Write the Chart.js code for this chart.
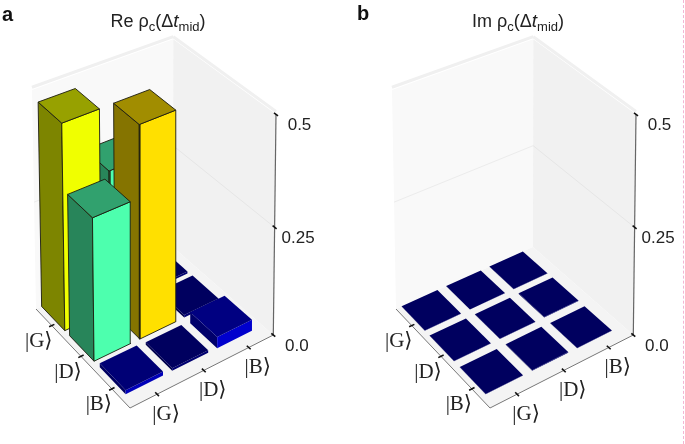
<!DOCTYPE html>
<html>
<head>
<meta charset="utf-8">
<script src="https://cdn.jsdelivr.net/npm/chart.js@4"></script>
<style>
  html, body { margin: 0; padding: 0; background: #fff; }
  #page { position: relative; width: 685px; height: 444px; overflow: hidden; font-family: "Liberation Sans", sans-serif; color: #222; }
  canvas { position: absolute; top: 0; }
  .tag { position: absolute; font-weight: bold; font-size: 20px; line-height: 20px; color: #111; }
  .title { position: absolute; top: 11px; width: 200px; text-align: center; font-size: 18px; line-height: 20px; white-space: nowrap; }
  .title sub { font-size: 13px; line-height: 0; vertical-align: -4px; }
  .title i { font-size: 19px; }
  #cropline { position: absolute; left: 683px; top: 0; height: 444px; border-left: 1px dashed #f4b6d2; }
</style>
</head>
<body>
<div id="page">
  <canvas id="panel-a" width="342" height="444" style="left:0"></canvas>
  <canvas id="panel-b" width="323" height="444" style="left:360px"></canvas>
  <div class="tag" style="left:2px;top:4px">a</div>
  <div class="tag" style="left:357px;top:3px">b</div>
  <div class="title" style="left:58px">Re ρ<sub>c</sub>(Δ<i>t</i><sub>mid</sub>)</div>
  <div class="title" style="left:418px">Im ρ<sub>c</sub>(Δ<i>t</i><sub>mid</sub>)</div>
  <div id="cropline"></div>
</div>
<script>
// Data
const kets = ["|G⟩", "|D⟩", "|B⟩"];
const zTicks = [0.0, 0.25, 0.5];
const zTickLabels = ["0.0", "0.25", "0.5"];

const reG = [0.469, 0.323, 0.005];
const reD = [0.323, 0.483, 0.006];
const reB = [0.009, 0.006, 0.026];

const imG = [0.0005, 0.0005, 0.0005];
const imD = [0.0005, 0.0005, 0.0015];
const imB = [0.0005, 0.0015, 0.0005];

// Projection of the box on the picture, corners L, K(back), R, F(front)
const floorQuad = [[36, 309], [173, 247], [273.3, 335], [130, 408]];
const roofQuad = [[32, 90], [173.3, 39.3], [276, 114.3], [128.7, 176]];
const zMax = 0.5;

const homography = (q) => {
    const [[x0, y0], [x1, y1], [x2, y2], [x3, y3]] = q;
    const dx1 = x1 - x2, dx2 = x3 - x2, sx = x0 - x1 + x2 - x3;
    const dy1 = y1 - y2, dy2 = y3 - y2, sy = y0 - y1 + y2 - y3;
    const det = dx1 * dy2 - dx2 * dy1;
    const g = (sx * dy2 - dx2 * sy) / det;
    const h = (dx1 * sy - sx * dy1) / det;
    const a = x1 - x0 + g * x1, b = x3 - x0 + h * x3;
    const d = y1 - y0 + g * y1, e = y3 - y0 + h * y3;
    return (u, v) => {
        const w = g * u + h * v + 1;
        return [(a * u + b * v + x0) / w, (d * u + e * v + y0) / w];
    };
};
const floorMap = homography(floorQuad);
const roofMap = homography(roofQuad);

// u runs |G> to |B> along the front right edge, v runs |G> to |B> along the left edge
const project = (u, v, z) => {
    const p = floorMap(u, v), q = roofMap(u, v);
    const s = z / zMax, t = s / (1 + 0.05 * (1 - s)); // heights shrink a little going up
    return { x: p[0] + (q[0] - p[0]) * t, y: p[1] + (q[1] - p[1]) * t };
};

const tickCentre = [0.18, 0.5, 0.82];
const barCentreU = [0.165, 0.48, 0.796];
const barCentreV = [0.131, 0.446, 0.768];
const barHalfU = 0.126;
const barHalfV = 0.131;

const barColour = (z) => {
    if (z < 0.008) return [0, 0, 150];
    if (z < 0.02) return [0, 0, 185];
    if (z < 0.1) return [0, 0, 205];
    if (z < 0.4) return [77, 255, 174];
    if (z < 0.475) return [240, 255, 0];
    return [255, 224, 0];
};
const shade = (c, f) => `rgb(${c.map((k) => Math.round(k * f)).join(",")})`;

const polygon = (pts, fill, stroke, width) => ({
    data: pts.concat([pts[0]]),
    showLine: true,
    fill: "shape",
    backgroundColor: fill,
    borderColor: stroke || fill,
    borderWidth: width === undefined ? 0 : width,
    pointRadius: 0,
    tension: 0,
});
const segment = (a, b, colour, width) => ({
    data: [a, b],
    showLine: true,
    fill: false,
    borderColor: colour,
    borderWidth: width,
    pointRadius: 0,
    tension: 0,
});

const boxDatasets = () => {
    const sets = [];
    // panes
    sets.push(polygon([project(0, 0, 0), project(1, 0, 0), project(1, 0, zMax), project(0, 0, zMax)], "#f9f9f9"));
    sets.push(polygon([project(1, 0, 0), project(1, 1, 0), project(1, 1, zMax), project(1, 0, zMax)], "#f1f1f1"));
    sets.push(polygon([project(0, 0, 0), project(1, 0, 0), project(1, 1, 0), project(0, 1, 0)], "#f4f4f4"));
    // grid lines on the panes
    const rim = zMax * 1.012;
    sets.push(segment(project(0, 0, rim), project(1, 0, rim), "#f0f0f0", 3));
    sets.push(segment(project(1, 0, rim), project(1, 1, rim), "#f0f0f0", 3));
    sets.push(segment(project(0, 0, 0.25), project(1, 0, 0.25), "#ececec", 1));
    sets.push(segment(project(1, 0, 0.25), project(1, 1, 0.25), "#e6e6e6", 1));
    // axes
    sets.push(segment(project(0, 0, 0), project(0, 1, 0), "#777", 1));
    sets.push(segment(project(0, 1, 0), project(1, 1, 0), "#777", 1));
    sets.push(segment(project(1, 1, 0), project(1, 1, zMax), "#666", 1.2));
    const t = 0.018;
    tickCentre.forEach((c) => {
        sets.push(segment(project(-t, c, 0), project(t, c, 0), "#111", 1.6));
        sets.push(segment(project(c, 1 - t, 0), project(c, 1 + t, 0), "#111", 1.6));
    });
    zTicks.forEach((z) => {
        sets.push(segment(project(1, 1 - t, z), project(1, 1 + t, z), "#111", 1.6));
    });
    return sets;
};

const barDatasets = (rows) => {
    const sets = [];
    rows.forEach((row, r) => {
        for (let c = row.length - 1; c >= 0; c--) {
            const z = row[c];
            const u0 = barCentreU[c] - barHalfU, u1 = barCentreU[c] + barHalfU;
            const v0 = barCentreV[r] - barHalfV, v1 = barCentreV[r] + barHalfV;
            const col = barColour(z);
            const edge = z > 0.1 ? "#1c1c10" : undefined;
            const lw = z > 0.1 ? 0.9 : 0;
            // left face, right face, top
            sets.push(polygon([project(u0, v0, 0), project(u0, v1, 0), project(u0, v1, z), project(u0, v0, z)], shade(col, 0.52), edge, lw));
            sets.push(polygon([project(u0, v1, 0), project(u1, v1, 0), project(u1, v1, z), project(u0, v1, z)], shade(col, z < 0.008 ? 0.75 : 1), edge, lw));
            sets.push(polygon([project(u0, v0, z), project(u1, v0, z), project(u1, v1, z), project(u0, v1, z)], shade(col, 0.63), edge, lw));
        }
    });
    return sets;
};

const axisText = {
    id: "axisText",
    afterDatasetsDraw(chart) {
        const { ctx, scales } = chart;
        const px = (p) => [scales.x.getPixelForValue(p.x), scales.y.getPixelForValue(p.y)];
        ctx.save();
        ctx.textAlign = "center";
        ctx.textBaseline = "middle";
        ctx.fillStyle = "#222";
        ctx.font = '21px "Liberation Serif", "DejaVu Serif", serif';
        kets.forEach((k, i) => {
            const l = px(project(0, tickCentre[i], 0));
            ctx.fillText(k, l[0] - 13, l[1] + 16);
            const b = px(project(tickCentre[i], 1, 0));
            ctx.fillText(k, b[0] + 9, b[1] + 20);
        });
        ctx.font = '17px "Liberation Sans", sans-serif';
        zTicks.forEach((z, i) => {
            const p = px(project(1, 1, z));
            ctx.fillText(zTickLabels[i], p[0] + 23.5, p[1] + 11);
        });
        ctx.restore();
    },
};

const drawPanel = (id, rows) => {
    const canvas = document.getElementById(id);
    const datasets = boxDatasets().concat(barDatasets(rows));
    // later datasets paint over earlier ones
    datasets.forEach((d, i) => { d.order = -i; });
    return new Chart(canvas, {
        type: "scatter",
        data: { datasets },
        options: {
            responsive: false,
            animation: false,
            events: [],
            layout: { padding: 0 },
            scales: {
                x: { type: "linear", display: false, min: 0, max: canvas.width },
                y: { type: "linear", display: false, min: 0, max: canvas.height, reverse: true },
            },
            plugins: {
                legend: { display: false },
                tooltip: { enabled: false },
                title: { display: false },
            },
        },
        plugins: [axisText],
    });
};

drawPanel("panel-a", [reG, reD, reB]);
drawPanel("panel-b", [imG, imD, imB]);
</script>
</body>
</html>
